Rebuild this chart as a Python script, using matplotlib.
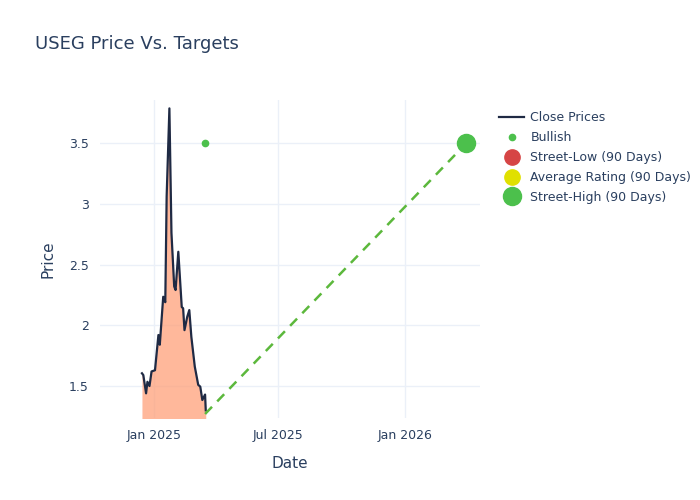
import matplotlib
matplotlib.use("Agg")
import matplotlib.pyplot as plt
import matplotlib.dates as mdates
import pandas as pd

# ------------------------
# Data
# ------------------------
close_dates = ["2024-12-14", "2024-12-16", "2024-12-20", "2024-12-22", "2024-12-25",
               "2024-12-28", "2025-01-02", "2025-01-07", "2025-01-09", "2025-01-14",
               "2025-01-17", "2025-01-19", "2025-01-23", "2025-01-26", "2025-01-30",
               "2025-02-01", "2025-02-05", "2025-02-10", "2025-02-12", "2025-02-14",
               "2025-02-18", "2025-02-21", "2025-02-24", "2025-03-01", "2025-03-06",
               "2025-03-09", "2025-03-12", "2025-03-16", "2025-03-17"]
close_prices = [1.605, 1.59, 1.44, 1.535, 1.50, 1.62, 1.63, 1.92, 1.84, 2.235,
                2.19, 3.06, 3.785, 2.76, 2.32, 2.29, 2.605, 2.15, 2.14, 1.96,
                2.07, 2.125, 1.905, 1.66, 1.51, 1.495, 1.385, 1.43, 1.30]

bullish_date = "2025-03-16"
bullish_price = 3.5

target_line_dates = ["2025-03-16", "2026-04-01"]
target_line_prices = [1.27, 3.5]

street_high_date = "2026-04-01"
street_high_price = 3.5

close_dates = pd.to_datetime(close_dates)

# ------------------------
# Plot
# ------------------------
fig = plt.figure(figsize=(7, 5), dpi=100)
ax = fig.add_axes([0.143, 0.164, 0.543, 0.636])

ax.fill_between(close_dates, close_prices, 0, color="#FFA07A", alpha=0.75, linewidth=0)
ax.plot(close_dates, close_prices, color="#1f2a44", linewidth=1.6, label="Close Prices")
ax.plot(pd.to_datetime(target_line_dates), target_line_prices, color="#5cb83c",
        linestyle=(0, (4, 3)), linewidth=1.8)
ax.plot(pd.to_datetime([bullish_date]), [bullish_price], "o", color="#4cc04c",
        markersize=4.5, linestyle="none", label="Bullish")
ax.plot([], [], "o", color="#d64545", markersize=11, linestyle="none", label="Street-Low (90 Days)")
ax.plot([], [], "o", color="#e0e000", markersize=11, linestyle="none", label="Average Rating (90 Days)")
ax.plot(pd.to_datetime([street_high_date]), [street_high_price], "o", color="#4cc04c",
        markersize=13, linestyle="none", label="Street-High (90 Days)")

ax.set_xlim(pd.Timestamp("2024-10-14"), pd.Timestamp("2026-04-21"))
ax.set_ylim(1.237, 3.854)
ax.set_yticks([1.5, 2, 2.5, 3, 3.5])
ax.set_yticklabels(["1.5", "2", "2.5", "3", "3.5"])
ax.set_xticks(pd.to_datetime(["2025-01-01", "2025-07-01", "2026-01-01"]))
ax.xaxis.set_major_formatter(mdates.DateFormatter("%b %Y"))

text_color = "#2a3f5f"
for s in ax.spines.values():
    s.set_visible(False)
ax.grid(True, color="#ebf0f8", linewidth=1)
ax.set_axisbelow(True)
ax.tick_params(length=0, colors=text_color, labelsize=9, pad=8)
ax.set_xlabel("Date", color=text_color, fontsize=11, labelpad=10)
ax.set_ylabel("Price", color=text_color, fontsize=11, labelpad=10)

fig.text(0.05, 0.912, "USEG Price Vs. Targets", color=text_color, fontsize=13, va="center")

leg = ax.legend(loc="upper left", bbox_to_anchor=(1.02, 1.0), frameon=False,
                fontsize=9, labelcolor=text_color, handlelength=2, handletextpad=0.5,
                labelspacing=0.55)

fig.savefig("out.png", dpi=100)
